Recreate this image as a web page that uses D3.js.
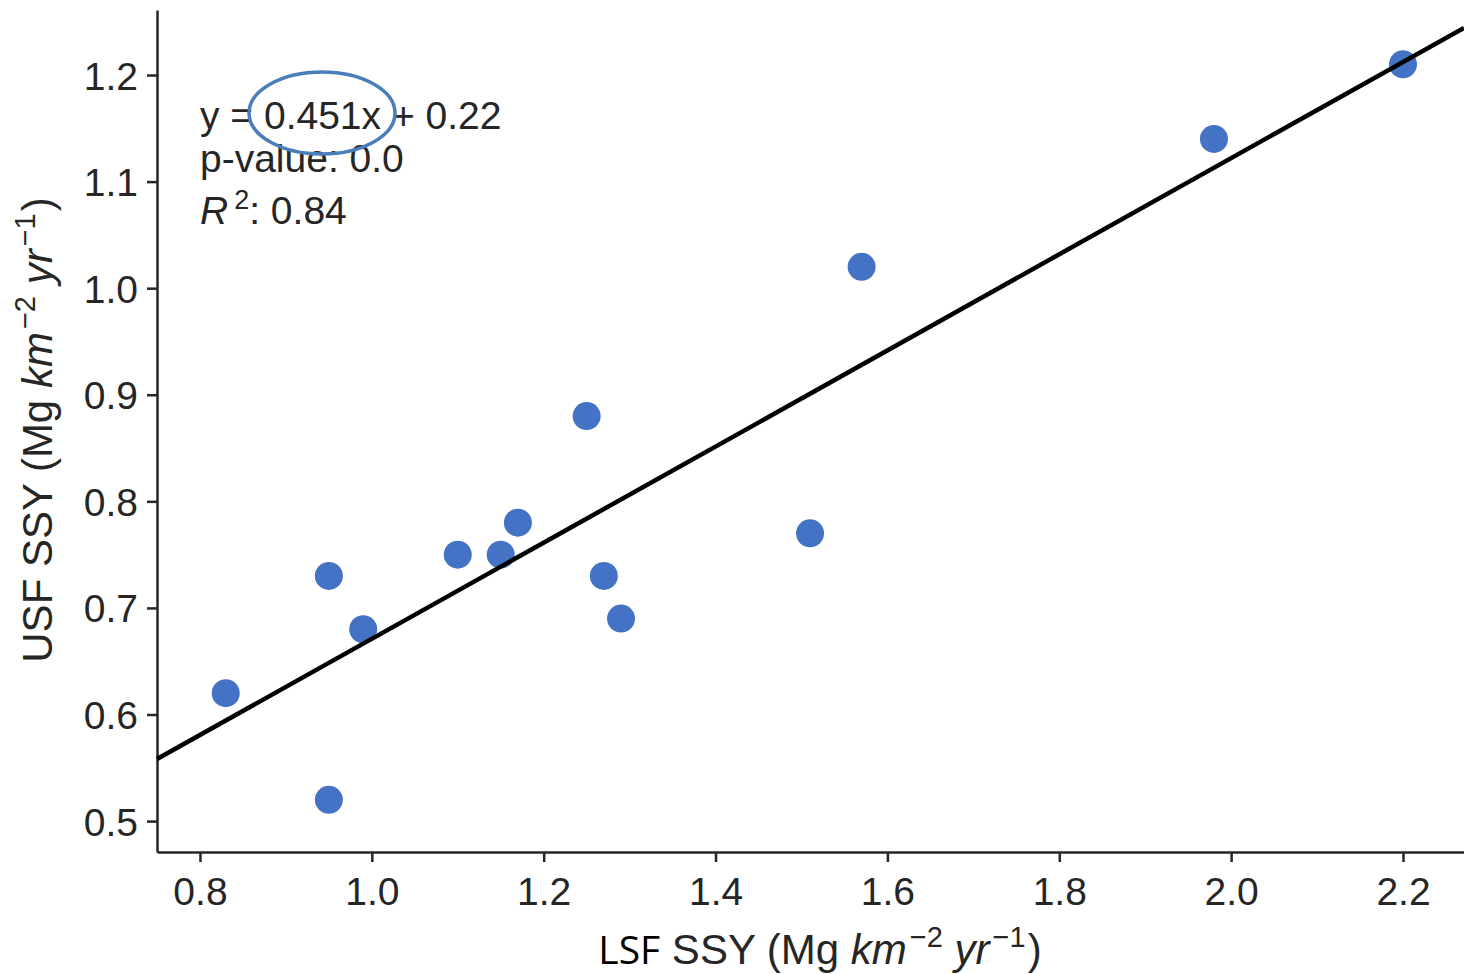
<!DOCTYPE html>
<html>
<head>
<meta charset="utf-8">
<script src="https://cdn.jsdelivr.net/npm/d3@7"></script>
<style>
  body { margin: 0; background: #fff; }
  text { font-family: "Liberation Sans", Arial, sans-serif; }
</style>
</head>
<body>
<div id="root"></div>
<script>
// scatter values
var lsf = [0.83, 0.95, 0.95, 0.99, 1.10, 1.15, 1.17, 1.25, 1.27, 1.29, 1.51, 1.57, 1.98, 2.20];
var usf = [0.62, 0.52, 0.73, 0.68, 0.75, 0.75, 0.78, 0.88, 0.73, 0.69, 0.77, 1.02, 1.14, 1.21];
var xTicks = [0.8, 1.0, 1.2, 1.4, 1.6, 1.8, 2.0, 2.2];
var yTicks = [0.5, 0.6, 0.7, 0.8, 0.9, 1.0, 1.1, 1.2];
var slope = 0.451, intercept = 0.22;
var statLines = ['y = 0.451x + 0.22', 'p-value: 0.0'];

var W = 1464, H = 974;
var mLeft = 157, mRight = 1464, mTop = 10, mBottom = 852;

var svg = d3.select('#root')
  .append('svg')
    .attr('width', W)
    .attr('height', H);

var x = d3.scaleLinear()
  .domain([0.75, 2.271])
  .range([mLeft, mRight]);

var y = d3.scaleLinear()
  .domain([0.471, 1.261])
  .range([mBottom, mTop]);

var ink = '#262626';

// axes
var xAxis = svg.append('g')
  .attr('transform', 'translate(0,' + mBottom + ')')
  .call(d3.axisBottom(x).tickValues(xTicks).tickFormat(d3.format('.1f'))
    .tickSize(10).tickSizeOuter(0).tickPadding(10));
var yAxis = svg.append('g')
  .attr('transform', 'translate(' + mLeft + ',0)')
  .call(d3.axisLeft(y).tickValues(yTicks).tickFormat(d3.format('.1f'))
    .tickSize(10).tickSizeOuter(0).tickPadding(9));

[xAxis, yAxis].forEach(g => {
  g.select('.domain').attr('stroke', ink).attr('stroke-width', 2.5);
  g.selectAll('.tick line').attr('stroke', ink).attr('stroke-width', 2.5);
  g.selectAll('.tick text')
    .attr('fill', ink)
    .style('font-size', '39px')
    .style('font-family', '"Liberation Sans", Arial, sans-serif');
});
xAxis.selectAll('.tick text').attr('dy', '0.85em');
yAxis.selectAll('.tick text').attr('dy', '0.36em');

// points
var pts = lsf.map((v, i) => ({ x: v, y: usf[i] }));
svg.selectAll('circle.pt')
  .data(pts)
  .enter()
  .append('circle')
    .attr('class', 'pt')
    .attr('cx', d => x(d.x))
    .attr('cy', d => y(d.y))
    .attr('r', 14)
    .attr('fill', '#4472c4');

// regression line, drawn on top
var xs = x.domain();
svg.append('line')
  .attr('x1', x(xs[0]))
  .attr('y1', y(slope * xs[0] + intercept))
  .attr('x2', x(xs[1]))
  .attr('y2', y(slope * xs[1] + intercept))
  .attr('stroke', '#000')
  .attr('stroke-width', 4.5);

// stats text
var stats = svg.append('g').attr('fill', ink).style('font-size', '39px');
statLines.forEach((s, i) => {
  stats.append('text')
    .attr('x', 200)
    .attr('y', 129 + i * 43)
    .text(s);
});
var r2 = stats.append('text').attr('x', 200).attr('y', 224);
r2.append('tspan').style('font-style', 'italic').text('R');
r2.append('tspan').attr('dy', -15).attr('dx', 6).style('font-size', '27px').text('2');
r2.append('tspan').attr('dy', 15).text(': 0.84');

// hand-drawn highlight ellipse
svg.append('ellipse')
  .attr('cx', 322)
  .attr('cy', 113)
  .attr('rx', 73)
  .attr('ry', 41)
  .attr('fill', 'none')
  .attr('stroke', '#4a7ebb')
  .attr('stroke-width', 3.5);

// axis labels
function unitLabel(t) {
  t.append('tspan').text(' SSY (Mg ');
  t.append('tspan').style('font-style', 'italic').text('km');
  t.append('tspan').attr('dy', -17).attr('dx', 3).style('font-size', '29px').text('\u22122');
  t.append('tspan').attr('dy', 17).text(' ');
  t.append('tspan').style('font-style', 'italic').text('yr');
  t.append('tspan').attr('dy', -17).attr('dx', 3).style('font-size', '29px').text('\u22121');
  t.append('tspan').attr('dy', 17).attr('dx', 2).text(')');
}

var xl = svg.append('text')
  .attr('x', 820)
  .attr('y', 964)
  .attr('text-anchor', 'middle')
  .attr('fill', ink)
  .style('font-size', '42px');
xl.append('tspan').attr('fill', '#000').style('font-family', '"Open Sans", sans-serif').style('font-size', '39px').text('LSF');
unitLabel(xl);

var yl = svg.append('text')
  .attr('transform', 'translate(52,430) rotate(-90)')
  .attr('text-anchor', 'middle')
  .attr('fill', ink)
  .style('font-size', '42px');
yl.append('tspan').text('USF');
unitLabel(yl);
</script>
</body>
</html>
